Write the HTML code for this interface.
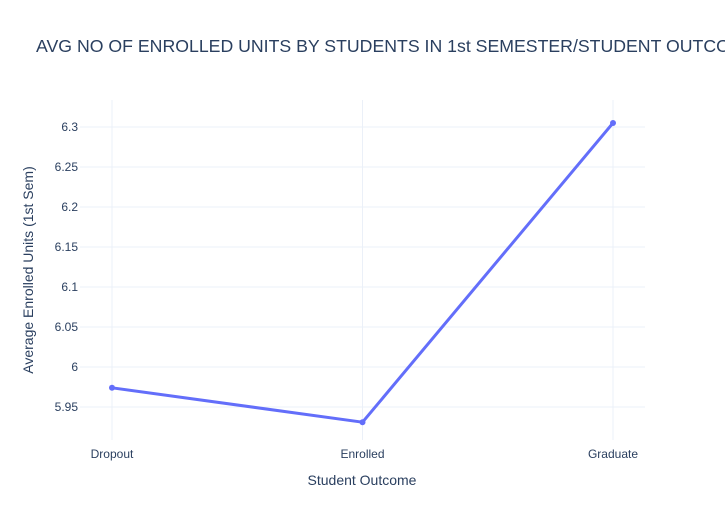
<!DOCTYPE html>
<html><head><meta charset="utf-8"><style>
html,body{margin:0;padding:0;background:#fff;overflow:hidden}
svg{display:block;font-family:"Liberation Sans",Arial,sans-serif}
</style></head><body>
<svg id="chart" width="725" height="525">
<rect width="725" height="525" fill="#fff"/>
<text x="36" y="52" font-size="17.7" fill="#2a3f5f">AVG NO OF ENROLLED UNITS BY STUDENTS IN 1st SEMESTER/STUDENT OUTCOME</text>
<g id="grid"></g>
<g id="axes"></g>
<g id="series"></g>
<text x="362" y="485" font-size="14" fill="#2a3f5f" text-anchor="middle">Student Outcome</text>
<text transform="translate(33,270) rotate(-90)" font-size="14" fill="#2a3f5f" text-anchor="middle">Average Enrolled Units (1st Sem)</text>
</svg>
<script>
const categories = ["Dropout","Enrolled","Graduate"];
const values = [5.974, 5.931, 6.305];
const yTicks = [5.95, 6, 6.05, 6.1, 6.15, 6.2, 6.25, 6.3];
const yTickLabels = ["5.95","6","6.05","6.1","6.15","6.2","6.25","6.3"];

const NS = "http://www.w3.org/2000/svg";
const L = 80, R = 645, T = 100, B = 440;
function xPos(i){ return 112 + i * 250.5; }
function yPos(v){ return 407 - (v - 5.95) * 800; }
function mk(tag, attrs, parent){
  const e = document.createElementNS(NS, tag);
  for (const k in attrs) e.setAttribute(k, attrs[k]);
  parent.appendChild(e);
  return e;
}
const grid = document.getElementById('grid');
const axes = document.getElementById('axes');
const series = document.getElementById('series');

yTicks.forEach((v, i) => {
  const g = mk('line', {x1:L, x2:R, y1:yPos(v), y2:yPos(v), stroke:'#ebf0f8', 'stroke-width':1}, grid);
  
  
  const t = mk('text', {x:L-2, y:yPos(v)+4, 'font-size':12, fill:'#2a3f5f', 'text-anchor':'end'}, axes);
  t.textContent = yTickLabels[i];
  
  
});
categories.forEach((c, i) => {
  const g = mk('line', {x1:xPos(i), x2:xPos(i), y1:T, y2:B, stroke:'#ebf0f8', 'stroke-width':1}, grid);
  
  
  const t = mk('text', {x:xPos(i), y:458, 'font-size':12, fill:'#2a3f5f', 'text-anchor':'middle'}, axes);
  t.textContent = c;
  
  
});
const pts = values.map((v, i) => xPos(i) + ',' + yPos(v)).join(' ');
const line = mk('polyline', {points:pts, fill:'none', stroke:'#636efa', 'stroke-width':3, 'stroke-linejoin':'round'}, series);


values.forEach((v, i) => {
  const p = mk('circle', {cx:xPos(i), cy:yPos(v), r:3, fill:'#636efa'}, series);
  
  
});
</script>
</body></html>
